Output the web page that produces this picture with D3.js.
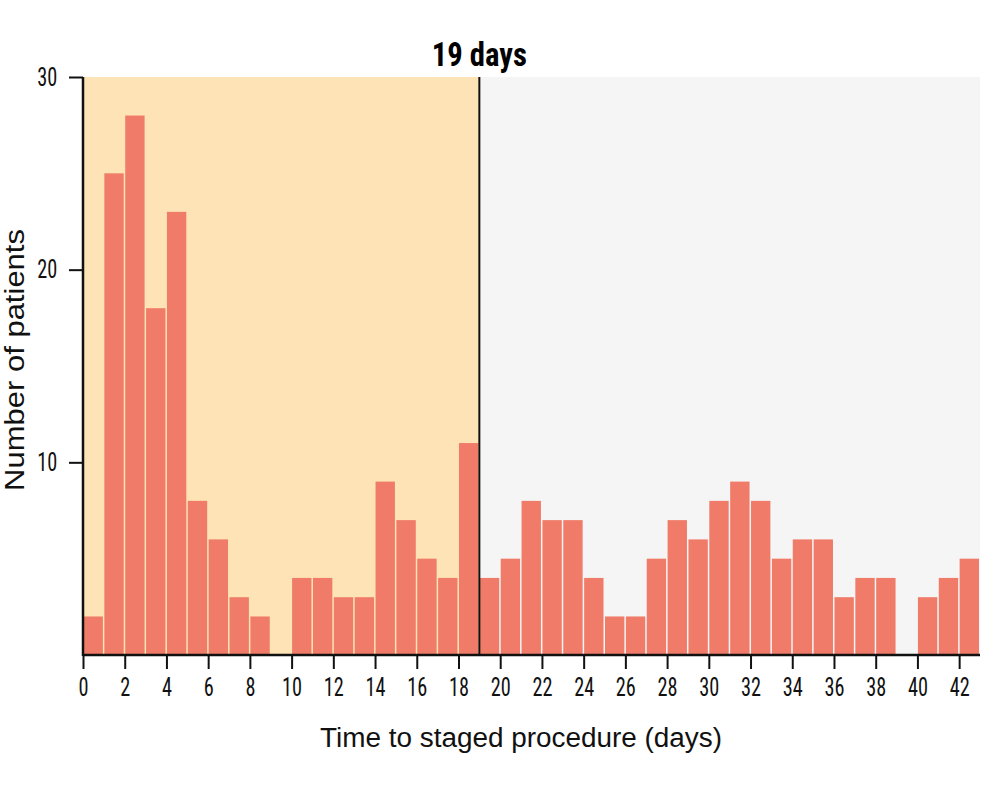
<!DOCTYPE html>
<html><head><meta charset="utf-8">
<script src="https://cdn.jsdelivr.net/npm/d3@7"></script>
<style>body{margin:0;background:#fff;} svg{display:block;}</style>
</head><body>
<svg id="c" width="982" height="790"></svg>
<script>
const days = d3.range(0, 43);
const counts = [2,25,28,18,23,8,6,3,2,0,4,4,3,3,9,7,5,4,11,4,5,8,7,7,4,2,2,5,7,6,8,9,8,5,6,6,3,4,4,0,3,4,5];
const xTicks = d3.range(0, 43, 2);
const yTicks = [10, 20, 30];
const cutoff = 19;
const titleText = "19 days";
const xLabel = "Time to staged procedure (days)";
const yLabel = "Number of patients";

const svg = d3.select("#c");
const m = {l:83, r:980, t:77, b:655};
const x = d3.scaleLinear().domain([0, 43]).range([m.l, m.r]);
const y = d3.scaleLinear().domain([0, 30]).range([m.b, m.t]);
const cond = "'Roboto Condensed','Liberation Sans Narrow','DejaVu Sans Condensed',sans-serif";
const sans = "'Liberation Sans','Noto Sans',sans-serif";

svg.append("rect").attr("x", x(0)).attr("y", y(30)).attr("width", x(cutoff)-x(0)).attr("height", y(0)-y(30)).attr("fill", "#fde3b5");
svg.append("rect").attr("x", x(cutoff)).attr("y", y(30)).attr("width", x(43)-x(cutoff)).attr("height", y(0)-y(30)).attr("fill", "#f5f5f5");

svg.append("g").selectAll("rect").data(days).join("rect")
  .attr("x", d => x(d) + 0.5)
  .attr("width", d => x(d+1) - x(d) - 1.5)
  .attr("y", (d,i) => y(counts[i]))
  .attr("height", (d,i) => y(0) - y(counts[i]))
  .attr("fill", "#ef7b68");

svg.append("line").attr("x1", x(cutoff)).attr("x2", x(cutoff)).attr("y1", y(30)).attr("y2", y(0)).attr("stroke", "#111").attr("stroke-width", 2);

const xa = svg.append("g").attr("transform", `translate(0,${y(0)})`)
  .call(d3.axisBottom(x).tickValues(xTicks).tickSize(14).tickSizeOuter(0).tickPadding(9));
xa.select(".domain").attr("stroke", "#111").attr("stroke-width", 2.5).attr("d", `M${x(0)},0H${x(43)}`);
xa.selectAll(".tick line").attr("stroke", "#111").attr("stroke-width", 2);
xa.selectAll("text").style("font-family", cond).style("font-size", "26px").attr("fill", "#111")
  .attr("transform", "scale(0.78,1)");

const ya = svg.append("g").attr("transform", `translate(${x(0)},0)`)
  .call(d3.axisLeft(y).tickValues(yTicks).tickSize(14).tickSizeOuter(0).tickPadding(11));
ya.select(".domain").attr("stroke", "#111").attr("stroke-width", 2.5).attr("d", `M0,${y(30)}V${y(0)+1}`);
ya.selectAll(".tick line").attr("stroke", "#111").attr("stroke-width", 2);
ya.selectAll("text").style("font-family", cond).style("font-size", "26px").attr("fill", "#111")
  .attr("x", -33).attr("transform", "scale(0.78,1)");

svg.append("text").attr("transform", `translate(${x(cutoff)},66) scale(0.93,1)`).attr("text-anchor", "middle")
  .attr("font-family", cond).attr("font-weight", "bold").attr("font-size", 33).attr("fill", "#000").text(titleText);

svg.append("text").attr("x", 521).attr("y", 747).attr("text-anchor", "middle")
  .attr("font-family", sans).attr("font-size", 27).attr("fill", "#111")
  .attr("textLength", 402).attr("lengthAdjust", "spacingAndGlyphs").text(xLabel);

svg.append("text").attr("transform", `translate(24,360) rotate(-90)`).attr("text-anchor", "middle")
  .attr("font-family", sans).attr("font-size", 27).attr("fill", "#111")
  .attr("textLength", 262).attr("lengthAdjust", "spacingAndGlyphs").text(yLabel);
</script>
</body></html>
